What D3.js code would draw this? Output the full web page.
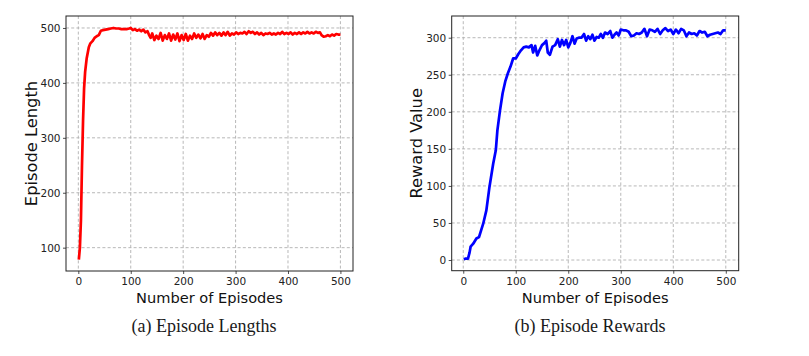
<!DOCTYPE html>
<html><head><meta charset="utf-8">
<script src="https://cdn.jsdelivr.net/npm/d3@7"></script>
<style>
body{margin:0;background:#fff;}
svg{display:block;}
.tick text{font-family:"DejaVu Sans",sans-serif;font-size:10.5px;fill:#222;}
</style></head>
<body>
<svg id="chart" width="809" height="356"></svg>
<script>
// ---- Data: (a) Episode Lengths ----
const lengthEpisodes = [1,3,5,7,9,11,13,16,20,23,27,31,35,39,43,47,52,57,62,67,72,77,82,87,92,97,100,104,108,112,116,120,124,128,132,135,138,141,145,149,153,157,161,165,169,173,177,181,185,189,193,197,201,205,209,213,217,221,225,229,233,237,241,245,249,253,257,261,265,269,273,277,281,285,289,293,297,301,305,309,313,317,321,325,329,333,337,341,345,349,353,357,361,365,369,373,377,381,385,389,393,397,401,405,409,413,417,421,425,429,433,437,441,445,449,453,457,461,464,468,472,476,480,484,488,492,496,500];
const lengthValues = [78,100,150,250,330,390,420,445,465,472,476,482,485,487,495,496,497,498,499,500,499,499,498,498,498,499,500,496,498,495,497,494,497,492,494,487,482,490,478,486,480,491,477,487,480,490,477,488,479,490,476,487,478,489,477,486,480,490,482,488,481,489,480,487,484,491,486,492,487,491,486,492,487,493,486,490,488,492,489,491,490,493,489,494,491,493,489,492,488,491,487,490,489,491,488,490,488,491,489,493,489,491,489,492,488,491,489,492,489,492,490,493,490,492,490,493,491,492,487,484,485,487,485,488,486,489,488,488];

// ---- Data: (b) Episode Rewards ----
const rewardEpisodes = [1,5,9,12,14,19,25,30,34,38,44,50,57,62,65,70,75,80,85,90,95,100,105,110,115,120,125,130,133,137,141,145,150,155,158,161,165,170,175,180,184,188,192,196,200,204,208,212,216,220,225,230,234,238,242,246,250,254,258,262,266,270,275,280,284,288,292,296,300,305,310,315,320,325,330,335,340,345,350,355,360,365,370,375,380,385,390,395,400,405,410,415,420,425,430,435,440,445,450,455,460,465,470,475,480,485,490,495,500];
const rewardValues = [1,2,2,10,18,22,29,31,40,49,67,99,130,148,175,202,225,241,252,261,272,272,278,283,287,288,287,290,280,289,276,283,290,293,296,280,277,288,290,298,288,297,290,297,287,293,302,292,299,300,300,305,296,302,298,304,296,301,300,305,300,307,305,309,300,304,307,303,311,310,310,308,302,303,306,305,307,312,302,311,310,308,312,305,310,313,309,311,305,311,306,312,310,302,307,305,306,303,309,307,308,302,304,305,306,307,305,310,310];

const xTicks = [0,100,200,300,400,500];
const lengthTicks = [100,200,300,400,500];
const rewardTicks = [0,50,100,150,200,250,300];

const svg = d3.select("#chart");

function panel(opt){
  const g = svg.append("g");
  const x = d3.scaleLinear().domain(opt.xDomain).range([opt.left, opt.right]);
  const y = d3.scaleLinear().domain(opt.yDomain).range([opt.bottom, opt.top]);
  // grid
  g.append("g").selectAll("line").data(xTicks).join("line")
    .attr("x1", d=>x(d)).attr("x2", d=>x(d)).attr("y1", opt.top).attr("y2", opt.bottom)
    .attr("stroke","#b0b0b0").attr("stroke-width",0.9).attr("stroke-dasharray","3,2.2");
  g.append("g").selectAll("line").data(opt.yTicks).join("line")
    .attr("y1", d=>y(d)).attr("y2", d=>y(d)).attr("x1", opt.left).attr("x2", opt.right)
    .attr("stroke","#b0b0b0").attr("stroke-width",0.9).attr("stroke-dasharray","3,2.2");
  // axes
  const xa = g.append("g").attr("transform",`translate(0,${opt.bottom})`)
    .call(d3.axisBottom(x).tickValues(xTicks).tickSize(3).tickPadding(3.5).tickFormat(d3.format("d")));
  const ya = g.append("g").attr("transform",`translate(${opt.left},0)`)
    .call(d3.axisLeft(y).tickValues(opt.yTicks).tickSize(3).tickPadding(2.5).tickFormat(d3.format("d")));
  [xa,ya].forEach(a=>{a.select(".domain").remove(); a.selectAll(".tick line").attr("stroke","#222").attr("stroke-width",0.8);});
  xa.selectAll(".tick text").attr("dy","0.71em");
  // line
  const data = opt.xs.map((e,i)=>[e,opt.ys[i]]);
  g.append("path").datum(data)
    .attr("fill","none").attr("stroke",opt.color).attr("stroke-width",2.7)
    .attr("stroke-linejoin","round").attr("stroke-linecap","butt")
    .attr("d", d3.line().x(d=>x(d[0])).y(d=>y(d[1])));
  // frame
  g.append("rect").attr("x",opt.left).attr("y",opt.top)
    .attr("width",opt.right-opt.left).attr("height",opt.bottom-opt.top)
    .attr("fill","none").attr("stroke","#222").attr("stroke-width",1);
  // labels
  g.append("text").attr("x",(opt.left+opt.right)/2).attr("y",302.5)
    .attr("text-anchor","middle").attr("font-family","DejaVu Sans, sans-serif")
    .attr("font-size",14.6).attr("fill","#111").text("Number of Episodes");
  g.append("text").attr("transform",`translate(${opt.ylabX},${(opt.top+opt.bottom)/2}) rotate(-90)`)
    .attr("text-anchor","middle").attr("font-family","DejaVu Sans, sans-serif")
    .attr("font-size",16.3).attr("fill","#111").text(opt.ylabel);
  g.append("text").attr("x",opt.capX).attr("y",332)
    .attr("text-anchor","middle").attr("font-family","Liberation Serif, serif")
    .attr("font-size",18).attr("fill","#1a1a1a").text(opt.caption);
}

panel({left:66,right:353,top:16,bottom:271,xDomain:[-23.5,524],yDomain:[57.5,521.8],
  yTicks:lengthTicks,xs:lengthEpisodes,ys:lengthValues,color:"#ff0000",
  ylabel:"Episode Length",ylabX:37,caption:"(a) Episode Lengths",capX:204});
panel({left:451.7,right:738.7,top:16,bottom:270.7,xDomain:[-22,524.6],yDomain:[-14.4,329.3],
  yTicks:rewardTicks,xs:rewardEpisodes,ys:rewardValues,color:"#0000ff",
  ylabel:"Reward Value",ylabX:422,caption:"(b) Episode Rewards",capX:590});
</script>
</body></html>
